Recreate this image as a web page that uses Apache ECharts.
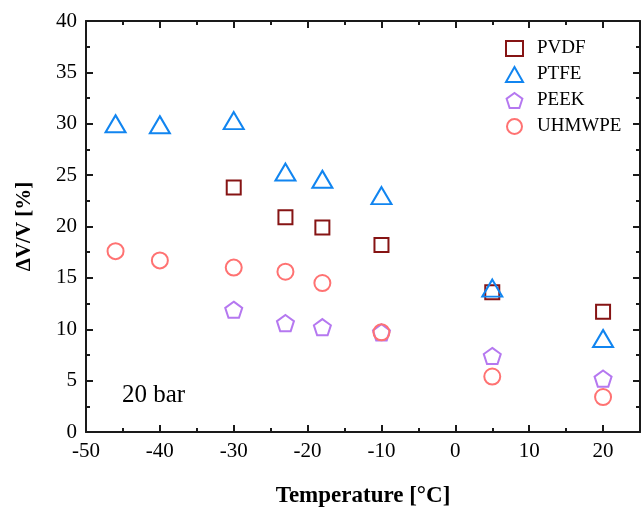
<!DOCTYPE html>
<html>
<head>
<meta charset="utf-8">
<script src="https://cdn.jsdelivr.net/npm/echarts@6/dist/echarts.min.js"></script>
<style>html,body{margin:0;padding:0;background:#fff}#c{width:643px;height:513px}</style>
</head>
<body>
<div id="c"></div>
<script>
var xTicks = [-50, -40, -30, -20, -10, 0, 10, 20];
var yTicks = [0, 5, 10, 15, 20, 25, 30, 35, 40];

var pvdfT = [-30, -23, -18, -10, 5, 20];
var pvdfV = [23.8, 20.9, 19.9, 18.2, 13.6, 11.7];

var ptfeT = [-46, -40, -30, -23, -18, -10, 5, 20];
var ptfeV = [30.0, 29.9, 30.3, 25.3, 24.6, 23.0, 14.0, 9.1];

var peekT = [-30, -23, -18, -10, 5, 20];
var peekV = [11.9, 10.6, 10.2, 9.7, 7.4, 5.2];

var uhmwpeT = [-46, -40, -30, -23, -18, -10, 5, 20];
var uhmwpeV = [17.6, 16.7, 16.0, 15.6, 14.5, 9.7, 5.4, 3.4];

function pairs(t, v) { return t.map(function (x, i) { return [x, v[i]]; }); }

var FONT = '"Liberation Serif", "Times New Roman", serif';
var AX = '#1a1a1a';
var pentagon = 'path://M50,0 L97.55,34.55 L79.39,90.45 L20.61,90.45 L2.45,34.55 Z';

function xAx(pos, showLabel, interval, tickLen, showLine, name) {
  return {
    type: 'value', position: pos, min: -50, max: 25, interval: interval,
    name: name || '', nameLocation: 'middle', nameGap: 53,
    nameTextStyle: { fontFamily: FONT, fontSize: 23, fontWeight: 'bold', color: '#000' },
    axisLine: { show: showLine, onZero: false, lineStyle: { color: AX, width: 2 } },
    axisTick: { show: true, inside: true, length: tickLen, lineStyle: { color: AX, width: 2 } },
    axisLabel: {
      show: showLabel, margin: 9, fontFamily: FONT, fontSize: 21, color: '#000',
      formatter: function (v) { return xTicks.indexOf(v) >= 0 ? String(v) : ''; }
    },
    splitLine: { show: false }
  };
}
function yAx(pos, showLabel, showLine, name) {
  return {
    type: 'value', position: pos, min: 0, max: 40, interval: 5,
    name: name || '', nameLocation: 'middle', nameGap: 51, nameRotate: 90,
    nameTextStyle: { fontFamily: FONT, fontSize: 21, fontWeight: 'bold', color: '#000' },
    axisLine: { show: showLine, onZero: false, lineStyle: { color: AX, width: 2 } },
    axisTick: { show: true, inside: true, length: 7, lineStyle: { color: AX, width: 2 } },
    minorTick: { show: true, splitNumber: 2, length: 4, lineStyle: { color: AX, width: 2 } },
    axisLabel: {
      show: showLabel, margin: 9, fontFamily: FONT, fontSize: 21, color: '#000',
      formatter: function (v) { return yTicks.indexOf(v) >= 0 ? String(v) : ''; }
    },
    splitLine: { show: false }
  };
}

function ser(name, data, symbol, size, color) {
  return {
    name: name, type: 'scatter', xAxisIndex: 0, yAxisIndex: 0,
    data: data, symbol: symbol, symbolSize: size, symbolKeepAspect: true,
    itemStyle: { color: 'rgba(255,255,255,0)', borderColor: color, borderWidth: 2, opacity: 1 },
    emphasis: { disabled: true }
  };
}

var chart = echarts.init(document.getElementById('c'), null, { renderer: 'canvas' });
chart.setOption({
  animation: false,
  backgroundColor: '#fff',
  grid: { left: 86, right: 2, top: 21, bottom: 81, containLabel: false },
  xAxis: [
    xAx('bottom', true, 5, 4, true, 'Temperature [°C]'),
    xAx('bottom', false, 10, 7, false),
    xAx('top', false, 5, 4, true),
    xAx('top', false, 10, 7, false)
  ],
  yAxis: [
    yAx('left', true, true, 'ΔV/V [%]'),
    yAx('right', false, true)
  ],
  legend: {
    orient: 'vertical', left: 500, top: 34, itemGap: 7,
    itemWidth: 17, itemHeight: 15,
    textStyle: { fontFamily: FONT, fontSize: 19, color: '#000', padding: [0, 0, 0, 9] },
    data: ['PVDF', 'PTFE', 'PEEK', 'UHMWPE']
  },
  graphic: [{
    type: 'text', left: 122, top: 383,
    style: { text: '20 bar', fontFamily: FONT, fontSize: 25, fill: '#000' }
  }],
  series: [
    ser('PVDF', pairs(pvdfT, pvdfV), 'rect', 14, '#861414'),
    ser('PTFE', pairs(ptfeT, ptfeV), 'triangle', [20, 17], '#1185f0'),
    ser('PEEK', pairs(peekT, peekV), pentagon, 17, '#b578f0'),
    ser('UHMWPE', pairs(uhmwpeT, uhmwpeV), 'circle', 16, '#ff7272')
  ]
});
</script>
</body>
</html>
